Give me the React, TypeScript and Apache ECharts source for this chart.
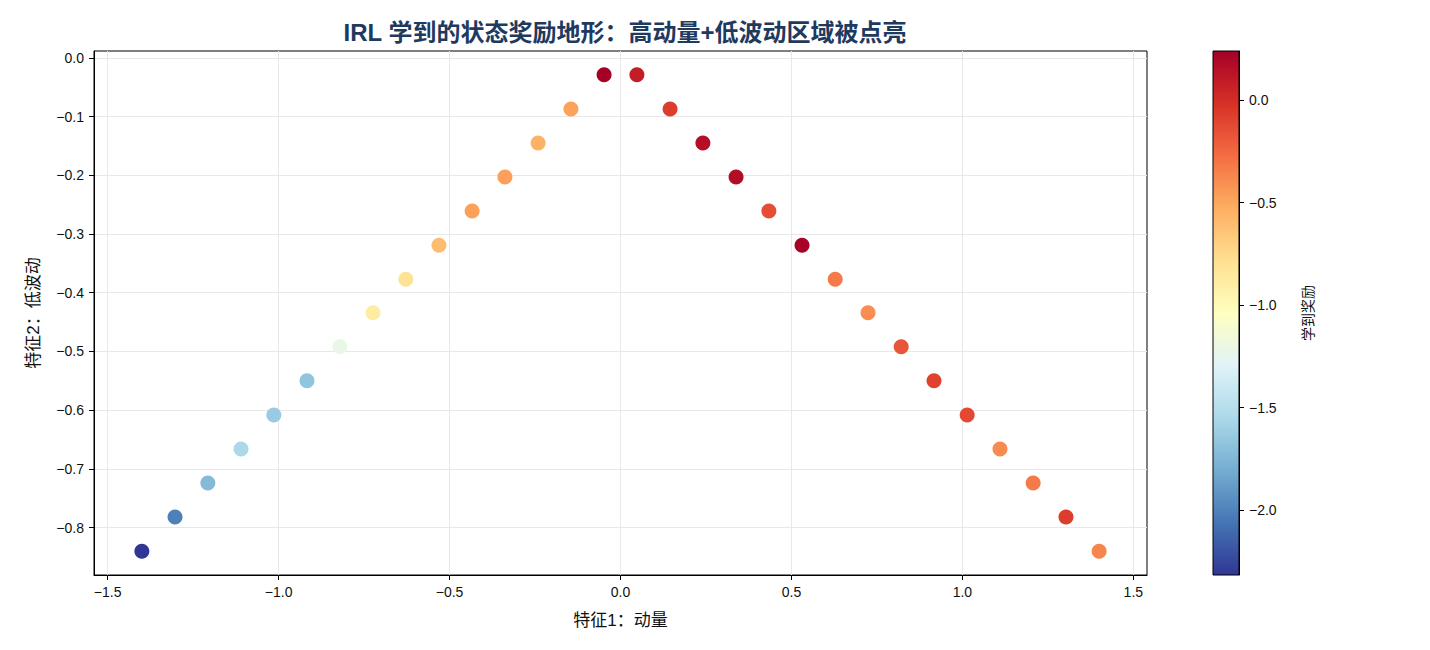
import React, { useEffect, useRef } from "react";
import * as echarts from "echarts";

const titleText = "IRL 学到的状态奖励地形：高动量+低波动区域被点亮";
const xName = "特征1：动量";
const yName = "特征2：低波动";
const cbName = "学到奖励";

const momentum = [
  -1.4, -1.303, -1.207, -1.11, -1.014, -0.917, -0.821, -0.724, -0.628, -0.531,
  -0.434, -0.338, -0.241, -0.145, -0.048, 0.048, 0.145, 0.241, 0.338, 0.434,
  0.531, 0.628, 0.724, 0.821, 0.917, 1.014, 1.11, 1.207, 1.303, 1.4,
];
const lowVol = [
  -0.84, -0.782, -0.724, -0.666, -0.608, -0.55, -0.492, -0.434, -0.377, -0.319,
  -0.261, -0.203, -0.145, -0.087, -0.029, -0.029, -0.087, -0.145, -0.203, -0.261,
  -0.319, -0.377, -0.434, -0.492, -0.55, -0.608, -0.666, -0.724, -0.782, -0.84,
];
const reward = [
  -2.317, -2.01, -1.73, -1.55, -1.63, -1.67, -1.22, -0.886, -0.81, -0.604,
  -0.477, -0.47, -0.55, -0.48, 0.239, 0.086, -0.07, 0.16, 0.17, -0.144,
  0.225, -0.32, -0.4, -0.17, -0.093, -0.12, -0.39, -0.32, -0.07, -0.37,
];

const xTicks = [-1.5, -1.0, -0.5, 0.0, 0.5, 1.0, 1.5];
const yTicks = [0.0, -0.1, -0.2, -0.3, -0.4, -0.5, -0.6, -0.7, -0.8];
const cbTicks = [0.0, -0.5, -1.0, -1.5, -2.0];

const palette = [
  "#313695", "#4575b4", "#74add1", "#abd9e9", "#e0f3f8", "#ffffbf",
  "#fee090", "#fdae61", "#f46d43", "#d73027", "#a50026",
];

const FONT = "'Liberation Sans', 'Noto Sans CJK SC', sans-serif";
const fmt = (v: number) =>
  (Math.abs(v) < 1e-9 ? 0 : v).toFixed(1).replace("-", "\u2212");

export default function App() {
  const ref = useRef<HTMLDivElement>(null);
  useEffect(() => {
    if (!ref.current) return;
    const chart = echarts.init(ref.current, undefined, { renderer: "svg" });
    const rMin = Math.min(...reward);
    const rMax = Math.max(...reward);
    const data = momentum.map((x, i) => [x, lowVol[i], reward[i]]);
    const labelStyle = { color: "#111", fontSize: 14, fontFamily: FONT };
    const nameStyle = { color: "#111", fontSize: 17, fontFamily: FONT };
    chart.setOption({
      animation: false,
      backgroundColor: "#fff",
      title: {
        text: titleText,
        left: 620,
        top: 15,
        textAlign: "center",
        textStyle: { color: "#1f3a5f", fontSize: 24, fontWeight: "bold", fontFamily: FONT },
      },
      grid: [
        { left: 94, top: 51, width: 1053, height: 524, show: true, borderColor: "#000", borderWidth: 1, backgroundColor: "transparent" },
        {
          left: 1213, top: 51, width: 26, height: 524, show: true, borderColor: "#000", borderWidth: 1,
          backgroundColor: {
            type: "linear", x: 0, y: 1, x2: 0, y2: 0,
            colorStops: palette.map((c, i) => ({ offset: i / (palette.length - 1), color: c })),
          },
        },
      ],
      visualMap: {
        show: false,
        type: "continuous",
        dimension: 2,
        seriesIndex: 0,
        min: rMin,
        max: rMax,
        inRange: { color: palette },
      },
      xAxis: [
        {
          gridIndex: 0, type: "value", min: -1.54, max: 1.54,
          name: xName, nameLocation: "middle", nameGap: 37,
          nameTextStyle: { ...nameStyle },
          axisLine: { show: true, onZero: false, lineStyle: { color: "#000", width: 1 } },
          axisTick: { show: true, inside: false, length: 5, customValues: xTicks, lineStyle: { color: "#000" } },
          axisLabel: { ...labelStyle, margin: 10, customValues: xTicks, formatter: fmt },
          splitLine: { show: true, lineStyle: { color: "#e8e8e8", width: 1 } },
        },
        { gridIndex: 1, type: "value", show: false, min: 0, max: 1 },
      ],
      yAxis: [
        {
          gridIndex: 0, type: "value", min: -0.8806, max: 0.0116,
          name: yName, nameLocation: "middle", nameGap: 52, nameRotate: 90,
          nameTextStyle: { ...nameStyle },
          axisLine: { show: true, onZero: false, lineStyle: { color: "#000", width: 1 } },
          axisTick: { show: true, inside: false, length: 5, customValues: yTicks, lineStyle: { color: "#000" } },
          axisLabel: { ...labelStyle, margin: 10, customValues: yTicks, formatter: fmt },
          splitLine: { show: true, lineStyle: { color: "#e8e8e8", width: 1 } },
        },
        {
          gridIndex: 1, type: "value", position: "right", min: rMin, max: rMax,
          name: cbName, nameLocation: "middle", nameGap: 62, nameRotate: 90,
          nameTextStyle: { ...labelStyle },
          axisLine: { show: true, onZero: false, lineStyle: { color: "#000", width: 1 } },
          axisTick: { show: true, inside: false, length: 5, customValues: cbTicks, lineStyle: { color: "#000" } },
          axisLabel: { ...labelStyle, margin: 10, customValues: cbTicks, formatter: fmt },
          splitLine: { show: false },
        },
      ],
      series: [
        {
          type: "scatter",
          xAxisIndex: 0,
          yAxisIndex: 0,
          symbol: "circle",
          symbolSize: 15,
          data,
          itemStyle: { opacity: 1 },
        },
      ],
    });
    return () => chart.dispose();
  }, []);
  return (
    <div
      ref={ref}
      style={{ position: "fixed", left: 0, top: 0, width: 1430, height: 650 }}
    />
  );
}
